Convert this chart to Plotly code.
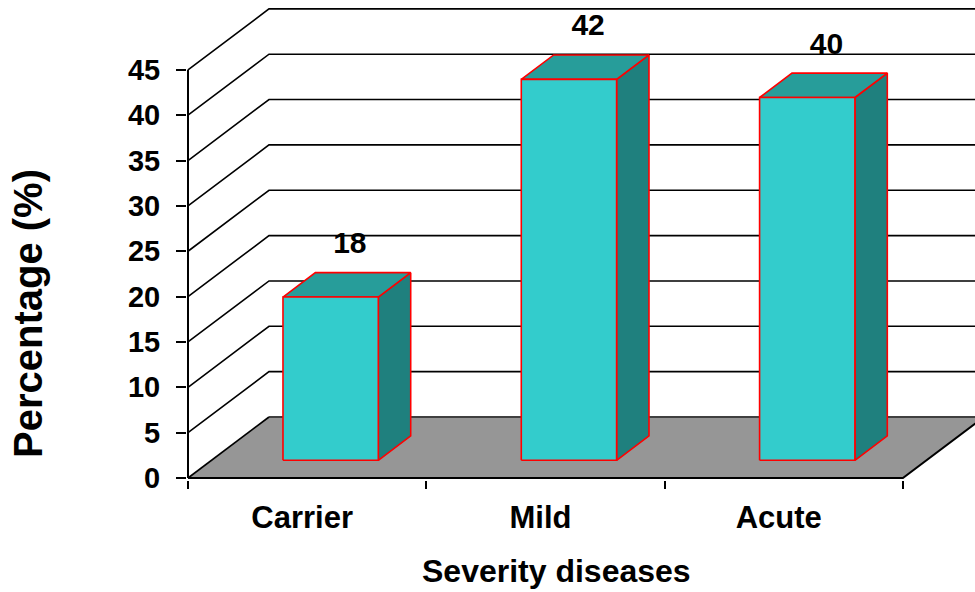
import plotly.graph_objects as go

# ---- data ----
categories = ["Carrier", "Mild", "Acute"]
percentages = [18, 42, 40]
y_ticks = [0, 5, 10, 15, 20, 25, 30, 35, 40, 45]

# ---- page / projection settings ----
W, H = 975, 592
MARGIN_L, MARGIN_B = 187, 112
PX_PER_CAT = 238.3      # horizontal pixels per category slot
PX_PER_UNIT = 9.07      # vertical pixels per percentage point
ORIGIN_X_PX, ORIGIN_Y_PX = 188, 478

DEPTH_X = 81 / PX_PER_CAT    # oblique depth vector, in data units
DEPTH_Y = 61 / PX_PER_UNIT
BAR_FRONT = 0.29             # depth fraction where bar front faces sit
BAR_DEPTH = 0.40             # bar depth as fraction of the full depth
BAR_WIDTH = 0.40             # bar width as fraction of a category slot

FRONT_COL = "#33CCCC"
TOP_COL = "#279D9A"
SIDE_COL = "#1F807E"
EDGE_COL = "#FF0000"
FLOOR_COL = "#969696"
FONT = "Liberation Sans, Arial, sans-serif"

n = len(categories)
x_range = [(MARGIN_L - ORIGIN_X_PX) / PX_PER_CAT, (W - ORIGIN_X_PX) / PX_PER_CAT]
y_range = [(ORIGIN_Y_PX - (H - MARGIN_B)) / PX_PER_UNIT, ORIGIN_Y_PX / PX_PER_UNIT]

fig = go.Figure()


def poly(xs, ys, fill, line_col, width):
    fig.add_trace(go.Scatter(
        x=list(xs) + [xs[0]], y=list(ys) + [ys[0]], mode="lines",
        fill="toself", fillcolor=fill,
        line=dict(color=line_col, width=width),
        hoverinfo="skip", showlegend=False))


def path(xs, ys, color, width):
    fig.add_trace(go.Scatter(
        x=xs, y=ys, mode="lines", line=dict(color=color, width=width),
        hoverinfo="skip", showlegend=False))


# floor
poly([0, n, n + DEPTH_X, DEPTH_X], [0, 0, DEPTH_Y, DEPTH_Y], FLOOR_COL, FLOOR_COL, 0)
path([DEPTH_X, n + DEPTH_X], [DEPTH_Y, DEPTH_Y], "#404040", 2)
path([0, n, n + DEPTH_X], [0, 0, DEPTH_Y], "black", 2)

# side + back wall gridlines
gx, gy = [], []
for v in y_ticks:
    gx += [0, DEPTH_X] + ([n + DEPTH_X] if v > 0 else []) + [None]
    gy += [v, v + DEPTH_Y] + ([v + DEPTH_Y] if v > 0 else []) + [None]
path(gx, gy, "black", 1.6)

# vertical value axis line
path([0, 0], [0, max(y_ticks)], "black", 2)

# 3D bars
lab_x, lab_y = [], []
for i, v in enumerate(percentages):
    ox = BAR_FRONT * DEPTH_X
    oy = BAR_FRONT * DEPTH_Y
    xl = i + 0.5 - BAR_WIDTH / 2 + ox
    xr = i + 0.5 + BAR_WIDTH / 2 + ox
    b = oy
    t = oy + v
    dx = BAR_DEPTH * DEPTH_X
    dy = BAR_DEPTH * DEPTH_Y
    poly([xr, xr + dx, xr + dx, xr], [b, b + dy, t + dy, t], SIDE_COL, EDGE_COL, 1.6)
    poly([xl, xr, xr + dx, xl + dx], [t, t, t + dy, t + dy], TOP_COL, EDGE_COL, 1.6)
    poly([xl, xr, xr, xl], [b, b, t, t], FRONT_COL, EDGE_COL, 1.6)
    lab_x.append(i + 0.5 + ox + dx / 2 + 3 / PX_PER_CAT)
    lab_y.append(t + dy + 27 / PX_PER_UNIT)

fig.add_trace(go.Scatter(
    x=lab_x, y=lab_y, mode="text", text=[str(v) for v in percentages],
    textposition="middle center",
    textfont=dict(family=FONT, size=30, color="black", weight="bold"),
    hoverinfo="skip", showlegend=False, cliponaxis=False))

fig.update_layout(
    width=W, height=H,
    margin=dict(l=MARGIN_L, r=0, t=0, b=MARGIN_B),
    paper_bgcolor="white", plot_bgcolor="white",
    font=dict(family=FONT, color="black"),
    xaxis=dict(
        range=x_range, showgrid=False, zeroline=False, showline=False,
        tickmode="array", tickvals=[i + 0.5 for i in range(n)], ticktext=categories,
        ticks="outside", ticklen=0, ticklabelstandoff=10, ticklabelshift=-5,
        tickfont=dict(family=FONT, size=31, color="black", weight="bold"),
        minor=dict(tickmode="array", tickvals=list(range(n + 1)),
                   ticks="outside", ticklen=8, tickwidth=1.5, tickcolor="black"),
    ),
    yaxis=dict(
        range=y_range, showgrid=False, zeroline=False, showline=False,
        tickmode="array", tickvals=y_ticks,
        ticks="outside", ticklen=10, tickwidth=1.5, tickcolor="black",
        ticklabelstandoff=10,
        tickfont=dict(family=FONT, size=29, color="black", weight="bold"),
    ),
    annotations=[
        dict(text="<b>Severity diseases</b>", xref="paper", yref="paper",
             x=(556 - MARGIN_L) / (W - MARGIN_L),
             y=-(571 - (H - MARGIN_B)) / (H - MARGIN_B),
             xanchor="center", yanchor="middle", showarrow=False,
             font=dict(family=FONT, size=32, color="black")),
        dict(text="<b>Percentage (%)</b>", xref="paper", yref="paper",
             x=-(MARGIN_L - 28) / (W - MARGIN_L),
             y=((H - MARGIN_B) - 314) / (H - MARGIN_B),
             xanchor="center", yanchor="middle", textangle=-90, showarrow=False,
             font=dict(family=FONT, size=40, color="black")),
    ],
)

fig.write_html("out.html")
